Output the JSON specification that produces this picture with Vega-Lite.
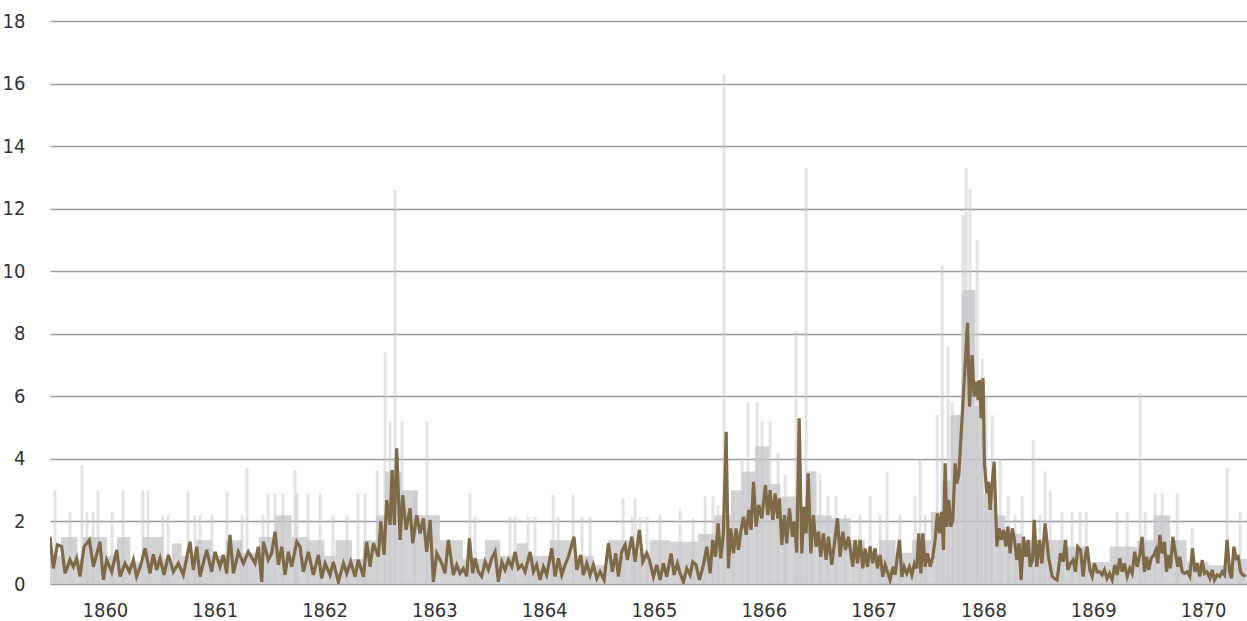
{
  "$schema": "https://vega.github.io/schema/vega-lite/v6.json",
  "width": 1197,
  "height": 563,
  "autosize": {"type": "none"},
  "padding": {"left": 50, "top": 21, "right": 0, "bottom": 37},
  "background": "white",
  "config": {"view": {"stroke": null}, "font": "'Liberation Sans Narrow', 'DejaVu Sans Condensed', 'Roboto Condensed', Roboto, sans-serif"},
  "datasets": {
    "blocks": [
      {"t":1859.50,"t2":1859.60,"v":0.9},{"t":1859.60,"t2":1859.75,"v":1.5},{"t":1859.75,"t2":1859.80,"v":0.8},{"t":1859.80,"t2":1860.02,"v":1.5},
      {"t":1860.02,"t2":1860.11,"v":0.9},{"t":1860.11,"t2":1860.23,"v":1.5},{"t":1860.23,"t2":1860.34,"v":0.7},{"t":1860.34,"t2":1860.53,"v":1.5},
      {"t":1860.53,"t2":1860.61,"v":0.8},{"t":1860.61,"t2":1860.70,"v":1.3},{"t":1860.70,"t2":1860.83,"v":0.9},{"t":1860.83,"t2":1860.97,"v":1.4},
      {"t":1860.97,"t2":1861.10,"v":0.9},{"t":1861.10,"t2":1861.25,"v":1.4},{"t":1861.25,"t2":1861.40,"v":1.0},{"t":1861.40,"t2":1861.55,"v":1.5},
      {"t":1861.55,"t2":1861.70,"v":2.2},{"t":1861.70,"t2":1861.85,"v":1.5},{"t":1861.85,"t2":1862.00,"v":1.4},{"t":1862.00,"t2":1862.10,"v":0.9},
      {"t":1862.10,"t2":1862.25,"v":1.4},{"t":1862.25,"t2":1862.35,"v":0.8},{"t":1862.35,"t2":1862.47,"v":1.4},{"t":1862.47,"t2":1862.55,"v":2.2},
      {"t":1862.55,"t2":1862.70,"v":3.6},{"t":1862.70,"t2":1862.85,"v":3.0},{"t":1862.85,"t2":1863.05,"v":2.2},{"t":1863.05,"t2":1863.26,"v":1.4},
      {"t":1863.26,"t2":1863.46,"v":0.8},{"t":1863.46,"t2":1863.60,"v":1.4},{"t":1863.60,"t2":1863.75,"v":0.9},{"t":1863.75,"t2":1863.85,"v":1.3},
      {"t":1863.85,"t2":1864.05,"v":0.9},{"t":1864.05,"t2":1864.25,"v":1.4},{"t":1864.25,"t2":1864.45,"v":0.9},{"t":1864.45,"t2":1864.58,"v":0.6},
      {"t":1864.58,"t2":1864.78,"v":1.4},{"t":1864.78,"t2":1864.96,"v":1.0},{"t":1864.96,"t2":1865.15,"v":1.4},{"t":1865.15,"t2":1865.40,"v":1.35},
      {"t":1865.40,"t2":1865.55,"v":1.6},{"t":1865.55,"t2":1865.70,"v":2.2},{"t":1865.70,"t2":1865.80,"v":3.0},{"t":1865.80,"t2":1865.92,"v":3.6},
      {"t":1865.92,"t2":1866.05,"v":4.4},{"t":1866.05,"t2":1866.15,"v":3.2},{"t":1866.15,"t2":1866.30,"v":2.8},{"t":1866.30,"t2":1866.38,"v":2.2},
      {"t":1866.38,"t2":1866.48,"v":3.6},{"t":1866.48,"t2":1866.62,"v":2.2},{"t":1866.62,"t2":1866.79,"v":2.1},{"t":1866.79,"t2":1866.92,"v":1.4},
      {"t":1866.92,"t2":1867.05,"v":0.9},{"t":1867.05,"t2":1867.20,"v":1.4},{"t":1867.20,"t2":1867.35,"v":1.0},{"t":1867.35,"t2":1867.52,"v":1.4},
      {"t":1867.52,"t2":1867.62,"v":2.3},{"t":1867.62,"t2":1867.70,"v":3.3},{"t":1867.70,"t2":1867.80,"v":5.4},{"t":1867.80,"t2":1867.92,"v":9.4},
      {"t":1867.92,"t2":1868.00,"v":5.7},{"t":1868.00,"t2":1868.10,"v":2.9},{"t":1868.10,"t2":1868.20,"v":2.2},{"t":1868.20,"t2":1868.35,"v":1.6},
      {"t":1868.35,"t2":1868.58,"v":1.4},{"t":1868.58,"t2":1868.75,"v":1.4},{"t":1868.75,"t2":1868.95,"v":1.2},{"t":1868.95,"t2":1869.15,"v":0.7},
      {"t":1869.15,"t2":1869.40,"v":1.2},{"t":1869.40,"t2":1869.55,"v":1.4},{"t":1869.55,"t2":1869.70,"v":2.2},{"t":1869.70,"t2":1869.85,"v":1.4},
      {"t":1869.85,"t2":1870.05,"v":0.7},{"t":1870.05,"t2":1870.25,"v":0.6},{"t":1870.25,"t2":1870.40,"v":0.8}
    ],
    "spikes": [
      {"t":1859.546,"v":3.0},{"t":1859.682,"v":2.3},{"t":1859.791,"v":3.8},{"t":1859.837,"v":2.3},{"t":1859.892,"v":2.3},{"t":1859.937,"v":3.0},
      {"t":1860.065,"v":2.3},{"t":1860.165,"v":3.0},{"t":1860.347,"v":3.0},{"t":1860.392,"v":3.0},{"t":1860.529,"v":2.2},{"t":1860.575,"v":2.2},
      {"t":1860.757,"v":2.95},{"t":1860.821,"v":2.2},{"t":1860.866,"v":2.2},{"t":1860.975,"v":2.2},{"t":1861.112,"v":2.95},{"t":1861.249,"v":2.2},
      {"t":1861.294,"v":3.7},{"t":1861.440,"v":2.2},{"t":1861.485,"v":2.9},{"t":1861.549,"v":2.9},{"t":1861.622,"v":2.9},{"t":1861.731,"v":3.64},
      {"t":1861.749,"v":2.9},{"t":1861.850,"v":2.9},{"t":1861.959,"v":2.9},{"t":1862.077,"v":2.2},{"t":1862.205,"v":2.2},{"t":1862.305,"v":2.9},
      {"t":1862.369,"v":2.9},{"t":1862.478,"v":3.64},{"t":1862.551,"v":7.4},{"t":1862.596,"v":5.2},{"t":1862.642,"v":12.6},{"t":1862.706,"v":5.2},
      {"t":1862.824,"v":3.0},{"t":1862.933,"v":5.2},{"t":1863.325,"v":2.9},{"t":1863.370,"v":2.15},{"t":1863.689,"v":2.15},{"t":1863.735,"v":2.15},
      {"t":1863.853,"v":2.15},{"t":1863.917,"v":2.15},{"t":1864.081,"v":2.85},{"t":1864.127,"v":2.15},{"t":1864.263,"v":2.85},{"t":1864.345,"v":2.15},
      {"t":1864.418,"v":2.15},{"t":1864.719,"v":2.74},{"t":1864.800,"v":2.15},{"t":1864.828,"v":2.74},{"t":1864.873,"v":2.15},{"t":1864.937,"v":2.15},
      {"t":1865.055,"v":2.2},{"t":1865.237,"v":2.4},{"t":1865.356,"v":2.1},{"t":1865.465,"v":2.8},{"t":1865.538,"v":2.8},{"t":1865.583,"v":2.5},
      {"t":1865.638,"v":16.3},{"t":1865.720,"v":2.8},{"t":1865.802,"v":4.0},{"t":1865.857,"v":5.8},{"t":1865.939,"v":5.8},{"t":1865.984,"v":5.2},
      {"t":1866.057,"v":5.2},{"t":1866.130,"v":4.2},{"t":1866.194,"v":3.5},{"t":1866.294,"v":8.1},{"t":1866.330,"v":4.0},{"t":1866.385,"v":13.3},
      {"t":1866.440,"v":3.6},{"t":1866.512,"v":3.5},{"t":1866.585,"v":2.8},{"t":1866.658,"v":2.8},{"t":1866.740,"v":2.2},{"t":1866.877,"v":2.2},
      {"t":1866.968,"v":2.8},{"t":1867.059,"v":2.2},{"t":1867.123,"v":3.6},{"t":1867.241,"v":2.2},{"t":1867.378,"v":2.8},{"t":1867.423,"v":4.0},
      {"t":1867.469,"v":2.2},{"t":1867.578,"v":5.4},{"t":1867.624,"v":10.2},{"t":1867.678,"v":7.6},{"t":1867.715,"v":5.8},{"t":1867.769,"v":5.4},
      {"t":1867.815,"v":11.8},{"t":1867.842,"v":13.3},{"t":1867.878,"v":12.6},{"t":1867.915,"v":9.4},{"t":1867.942,"v":11.0},{"t":1867.988,"v":7.2},
      {"t":1868.024,"v":6.0},{"t":1868.079,"v":5.4},{"t":1868.152,"v":4.0},{"t":1868.224,"v":2.8},{"t":1868.288,"v":2.2},{"t":1868.352,"v":2.8},
      {"t":1868.452,"v":4.6},{"t":1868.516,"v":2.2},{"t":1868.561,"v":3.6},{"t":1868.607,"v":3.0},{"t":1868.716,"v":2.3},{"t":1868.807,"v":2.3},
      {"t":1868.880,"v":2.3},{"t":1868.935,"v":2.3},{"t":1869.217,"v":2.3},{"t":1869.309,"v":2.3},{"t":1869.427,"v":6.1},{"t":1869.472,"v":2.3},
      {"t":1869.563,"v":2.9},{"t":1869.627,"v":2.9},{"t":1869.764,"v":2.9},{"t":1869.900,"v":1.8},{"t":1870.219,"v":3.7},{"t":1870.337,"v":2.3}
    ],
    "line": [
      {"t":1859.500,"v":1.51},{"t":1859.530,"v":0.5},{"t":1859.567,"v":1.25},{"t":1859.606,"v":1.2},{"t":1859.637,"v":0.34},{"t":1859.682,"v":0.77},
      {"t":1859.713,"v":0.55},{"t":1859.743,"v":0.82},{"t":1859.773,"v":0.24},{"t":1859.810,"v":1.19},{"t":1859.858,"v":1.41},{"t":1859.895,"v":0.55},
      {"t":1859.955,"v":1.35},{"t":1859.986,"v":0.13},{"t":1860.016,"v":0.77},{"t":1860.062,"v":0.39},{"t":1860.107,"v":1.09},{"t":1860.138,"v":0.24},
      {"t":1860.183,"v":0.66},{"t":1860.223,"v":0.39},{"t":1860.259,"v":0.77},{"t":1860.289,"v":0.24},{"t":1860.326,"v":0.6},{"t":1860.365,"v":1.14},
      {"t":1860.411,"v":0.34},{"t":1860.441,"v":0.95},{"t":1860.471,"v":0.45},{"t":1860.502,"v":0.82},{"t":1860.538,"v":0.29},{"t":1860.578,"v":0.93},
      {"t":1860.623,"v":0.39},{"t":1860.669,"v":0.66},{"t":1860.714,"v":0.29},{"t":1860.775,"v":1.35},{"t":1860.805,"v":0.45},{"t":1860.836,"v":1.19},
      {"t":1860.866,"v":0.24},{"t":1860.927,"v":1.09},{"t":1860.972,"v":0.39},{"t":1861.003,"v":1.03},{"t":1861.048,"v":0.55},{"t":1861.079,"v":0.93},
      {"t":1861.109,"v":0.34},{"t":1861.139,"v":1.57},{"t":1861.170,"v":0.34},{"t":1861.215,"v":1.03},{"t":1861.261,"v":0.66},{"t":1861.306,"v":1.03},
      {"t":1861.367,"v":0.66},{"t":1861.397,"v":1.19},{"t":1861.428,"v":0.07},{"t":1861.443,"v":1.35},{"t":1861.488,"v":0.77},{"t":1861.519,"v":0.98},
      {"t":1861.549,"v":1.67},{"t":1861.580,"v":0.61},{"t":1861.610,"v":1.19},{"t":1861.640,"v":0.29},{"t":1861.671,"v":1.03},{"t":1861.701,"v":0.55},
      {"t":1861.747,"v":1.35},{"t":1861.777,"v":1.19},{"t":1861.807,"v":0.39},{"t":1861.853,"v":1.03},{"t":1861.898,"v":0.29},{"t":1861.944,"v":0.93},
      {"t":1861.974,"v":0.18},{"t":1862.005,"v":0.66},{"t":1862.050,"v":0.29},{"t":1862.080,"v":0.71},{"t":1862.126,"v":0.07},{"t":1862.172,"v":0.66},
      {"t":1862.202,"v":0.34},{"t":1862.238,"v":0.71},{"t":1862.278,"v":0.23},{"t":1862.308,"v":0.77},{"t":1862.354,"v":0.23},{"t":1862.384,"v":1.35},
      {"t":1862.414,"v":0.55},{"t":1862.445,"v":1.3},{"t":1862.490,"v":0.87},{"t":1862.512,"v":2.0},{"t":1862.542,"v":0.93},{"t":1862.566,"v":2.68},
      {"t":1862.597,"v":1.89},{"t":1862.615,"v":3.64},{"t":1862.636,"v":1.89},{"t":1862.657,"v":4.34},{"t":1862.688,"v":1.41},{"t":1862.712,"v":2.84},
      {"t":1862.742,"v":1.73},{"t":1862.779,"v":2.42},{"t":1862.803,"v":1.3},{"t":1862.839,"v":2.2},{"t":1862.870,"v":1.62},{"t":1862.900,"v":2.1},
      {"t":1862.930,"v":1.03},{"t":1862.961,"v":2.05},{"t":1862.991,"v":0.07},{"t":1863.022,"v":0.98},{"t":1863.067,"v":0.66},{"t":1863.097,"v":0.34},
      {"t":1863.128,"v":1.41},{"t":1863.173,"v":0.29},{"t":1863.204,"v":0.61},{"t":1863.234,"v":0.34},{"t":1863.264,"v":0.5},{"t":1863.295,"v":0.24},
      {"t":1863.319,"v":1.46},{"t":1863.349,"v":0.34},{"t":1863.371,"v":0.82},{"t":1863.401,"v":0.39},{"t":1863.431,"v":0.24},{"t":1863.462,"v":0.71},
      {"t":1863.492,"v":0.45},{"t":1863.522,"v":0.82},{"t":1863.553,"v":1.03},{"t":1863.583,"v":0.07},{"t":1863.614,"v":0.71},{"t":1863.644,"v":0.45},
      {"t":1863.674,"v":0.77},{"t":1863.705,"v":0.55},{"t":1863.735,"v":1.03},{"t":1863.765,"v":0.5},{"t":1863.796,"v":0.61},{"t":1863.826,"v":0.39},
      {"t":1863.872,"v":1.03},{"t":1863.902,"v":0.39},{"t":1863.932,"v":0.61},{"t":1863.963,"v":0.13},{"t":1863.993,"v":0.55},{"t":1864.023,"v":0.29},
      {"t":1864.069,"v":1.14},{"t":1864.099,"v":0.24},{"t":1864.130,"v":0.82},{"t":1864.160,"v":0.29},{"t":1864.190,"v":0.61},{"t":1864.221,"v":0.87},
      {"t":1864.272,"v":1.51},{"t":1864.297,"v":0.45},{"t":1864.333,"v":0.93},{"t":1864.357,"v":0.29},{"t":1864.388,"v":0.66},{"t":1864.418,"v":0.29},
      {"t":1864.448,"v":0.61},{"t":1864.479,"v":0.18},{"t":1864.509,"v":0.39},{"t":1864.546,"v":0.13},{"t":1864.585,"v":1.3},{"t":1864.621,"v":0.39},
      {"t":1864.652,"v":0.98},{"t":1864.676,"v":0.24},{"t":1864.706,"v":1.03},{"t":1864.737,"v":1.25},{"t":1864.758,"v":0.77},{"t":1864.798,"v":1.51},
      {"t":1864.828,"v":0.71},{"t":1864.867,"v":1.73},{"t":1864.898,"v":0.71},{"t":1864.934,"v":0.98},{"t":1864.958,"v":0.77},{"t":1864.995,"v":0.23},
      {"t":1865.025,"v":0.61},{"t":1865.056,"v":0.13},{"t":1865.086,"v":0.66},{"t":1865.116,"v":0.23},{"t":1865.156,"v":0.98},{"t":1865.183,"v":0.29},
      {"t":1865.213,"v":0.66},{"t":1865.238,"v":0.34},{"t":1865.268,"v":0.07},{"t":1865.298,"v":0.5},{"t":1865.329,"v":0.29},{"t":1865.353,"v":0.71},
      {"t":1865.383,"v":0.61},{"t":1865.414,"v":0.13},{"t":1865.450,"v":0.61},{"t":1865.481,"v":1.19},{"t":1865.511,"v":0.34},{"t":1865.535,"v":1.41},
      {"t":1865.560,"v":0.87},{"t":1865.584,"v":1.94},{"t":1865.608,"v":0.82},{"t":1865.632,"v":1.62},{"t":1865.657,"v":4.87},{"t":1865.678,"v":0.5},
      {"t":1865.699,"v":1.78},{"t":1865.724,"v":0.98},{"t":1865.748,"v":1.78},{"t":1865.769,"v":1.09},{"t":1865.790,"v":1.67},{"t":1865.815,"v":2.15},
      {"t":1865.839,"v":1.57},{"t":1865.863,"v":2.37},{"t":1865.884,"v":1.73},{"t":1865.906,"v":3.27},{"t":1865.930,"v":1.83},{"t":1865.954,"v":2.53},
      {"t":1865.982,"v":2.1},{"t":1866.015,"v":3.16},{"t":1866.036,"v":2.2},{"t":1866.057,"v":3.0},{"t":1866.082,"v":2.05},{"t":1866.103,"v":2.9},
      {"t":1866.127,"v":2.1},{"t":1866.142,"v":2.74},{"t":1866.164,"v":1.25},{"t":1866.188,"v":2.2},{"t":1866.209,"v":1.3},{"t":1866.233,"v":2.42},
      {"t":1866.261,"v":1.51},{"t":1866.279,"v":2.0},{"t":1866.300,"v":1.0},{"t":1866.322,"v":5.3},{"t":1866.346,"v":0.98},{"t":1866.367,"v":2.47},
      {"t":1866.385,"v":1.62},{"t":1866.404,"v":3.54},{"t":1866.428,"v":0.98},{"t":1866.452,"v":2.2},{"t":1866.476,"v":1.19},{"t":1866.498,"v":1.67},
      {"t":1866.519,"v":0.87},{"t":1866.543,"v":1.62},{"t":1866.567,"v":0.77},{"t":1866.589,"v":1.51},{"t":1866.619,"v":0.61},{"t":1866.643,"v":1.3},
      {"t":1866.671,"v":2.1},{"t":1866.695,"v":0.87},{"t":1866.719,"v":1.67},{"t":1866.744,"v":1.09},{"t":1866.771,"v":1.51},{"t":1866.810,"v":0.55},
      {"t":1866.832,"v":1.41},{"t":1866.853,"v":0.66},{"t":1866.877,"v":1.41},{"t":1866.901,"v":0.5},{"t":1866.923,"v":1.14},{"t":1866.944,"v":0.55},
      {"t":1866.968,"v":1.2},{"t":1866.992,"v":0.66},{"t":1867.014,"v":1.14},{"t":1867.035,"v":0.5},{"t":1867.059,"v":0.93},{"t":1867.084,"v":0.23},
      {"t":1867.105,"v":0.61},{"t":1867.126,"v":0.39},{"t":1867.150,"v":0.13},{"t":1867.175,"v":0.55},{"t":1867.196,"v":0.29},{"t":1867.217,"v":0.93},
      {"t":1867.235,"v":1.41},{"t":1867.257,"v":0.23},{"t":1867.278,"v":0.55},{"t":1867.302,"v":0.34},{"t":1867.326,"v":0.55},{"t":1867.348,"v":0.29},
      {"t":1867.372,"v":0.66},{"t":1867.393,"v":0.5},{"t":1867.411,"v":1.62},{"t":1867.430,"v":0.34},{"t":1867.448,"v":1.62},{"t":1867.469,"v":0.55},
      {"t":1867.490,"v":0.98},{"t":1867.515,"v":0.55},{"t":1867.539,"v":0.87},{"t":1867.560,"v":1.41},{"t":1867.581,"v":2.26},{"t":1867.600,"v":1.62},
      {"t":1867.621,"v":2.31},{"t":1867.636,"v":1.09},{"t":1867.651,"v":3.86},{"t":1867.666,"v":1.83},{"t":1867.685,"v":2.69},{"t":1867.703,"v":1.83},
      {"t":1867.721,"v":2.05},{"t":1867.742,"v":3.86},{"t":1867.758,"v":3.22},{"t":1867.776,"v":3.5},{"t":1867.855,"v":8.35},{"t":1867.873,"v":5.67},
      {"t":1867.897,"v":7.32},{"t":1867.915,"v":5.99},{"t":1867.934,"v":6.47},{"t":1867.952,"v":5.88},{"t":1867.964,"v":6.52},{"t":1867.979,"v":5.3},
      {"t":1867.997,"v":6.58},{"t":1868.009,"v":3.86},{"t":1868.031,"v":2.9},{"t":1868.046,"v":3.27},{"t":1868.061,"v":2.37},{"t":1868.076,"v":3.1},
      {"t":1868.098,"v":3.91},{"t":1868.122,"v":1.2},{"t":1868.143,"v":1.78},{"t":1868.161,"v":1.41},{"t":1868.183,"v":1.73},{"t":1868.204,"v":1.2},
      {"t":1868.222,"v":1.83},{"t":1868.243,"v":0.98},{"t":1868.262,"v":1.78},{"t":1868.283,"v":1.41},{"t":1868.304,"v":0.77},{"t":1868.325,"v":1.3},
      {"t":1868.343,"v":0.13},{"t":1868.365,"v":1.51},{"t":1868.386,"v":0.87},{"t":1868.407,"v":1.41},{"t":1868.425,"v":0.55},{"t":1868.447,"v":0.77},
      {"t":1868.462,"v":2.05},{"t":1868.486,"v":0.55},{"t":1868.510,"v":1.41},{"t":1868.532,"v":0.66},{"t":1868.562,"v":1.94},{"t":1868.592,"v":0.87},
      {"t":1868.626,"v":0.24},{"t":1868.647,"v":0.18},{"t":1868.671,"v":0.13},{"t":1868.701,"v":0.98},{"t":1868.726,"v":0.71},{"t":1868.747,"v":1.41},
      {"t":1868.768,"v":0.45},{"t":1868.793,"v":0.66},{"t":1868.817,"v":0.77},{"t":1868.838,"v":0.39},{"t":1868.859,"v":1.19},{"t":1868.884,"v":1.09},
      {"t":1868.908,"v":0.24},{"t":1868.929,"v":0.93},{"t":1868.944,"v":1.19},{"t":1868.969,"v":0.45},{"t":1868.990,"v":0.24},{"t":1869.011,"v":0.66},
      {"t":1869.035,"v":0.39},{"t":1869.060,"v":0.39},{"t":1869.081,"v":0.29},{"t":1869.102,"v":0.45},{"t":1869.126,"v":0.18},{"t":1869.148,"v":0.34},
      {"t":1869.172,"v":0.13},{"t":1869.196,"v":0.61},{"t":1869.218,"v":0.29},{"t":1869.242,"v":0.82},{"t":1869.263,"v":0.39},{"t":1869.284,"v":0.66},
      {"t":1869.309,"v":0.24},{"t":1869.333,"v":0.5},{"t":1869.354,"v":0.34},{"t":1869.378,"v":1.03},{"t":1869.400,"v":0.55},{"t":1869.424,"v":0.93},
      {"t":1869.445,"v":1.51},{"t":1869.466,"v":0.39},{"t":1869.485,"v":0.87},{"t":1869.506,"v":0.45},{"t":1869.527,"v":0.82},{"t":1869.552,"v":0.93},
      {"t":1869.570,"v":1.09},{"t":1869.588,"v":0.66},{"t":1869.606,"v":1.57},{"t":1869.627,"v":0.98},{"t":1869.649,"v":1.35},{"t":1869.667,"v":0.39},
      {"t":1869.688,"v":0.93},{"t":1869.703,"v":0.5},{"t":1869.725,"v":1.51},{"t":1869.746,"v":1.03},{"t":1869.770,"v":0.55},{"t":1869.788,"v":0.87},
      {"t":1869.810,"v":0.39},{"t":1869.831,"v":0.34},{"t":1869.855,"v":0.39},{"t":1869.879,"v":0.24},{"t":1869.904,"v":1.14},{"t":1869.925,"v":0.39},
      {"t":1869.946,"v":0.66},{"t":1869.970,"v":0.24},{"t":1869.992,"v":0.77},{"t":1870.013,"v":0.34},{"t":1870.037,"v":0.39},{"t":1870.062,"v":0.18},
      {"t":1870.083,"v":0.45},{"t":1870.104,"v":0.13},{"t":1870.128,"v":0.29},{"t":1870.153,"v":0.24},{"t":1870.174,"v":0.39},{"t":1870.195,"v":0.29},
      {"t":1870.219,"v":1.41},{"t":1870.241,"v":0.39},{"t":1870.259,"v":0.18},{"t":1870.280,"v":1.19},{"t":1870.301,"v":0.82},{"t":1870.320,"v":0.87},
      {"t":1870.341,"v":0.39},{"t":1870.362,"v":0.29},{"t":1870.386,"v":0.24}
    ]
  },
  "layer": [
    {
      "data": {"name": "blocks"},
      "mark": {"type": "rect", "color": "#c4c4c8", "opacity": 0.75, "clip": true},
      "encoding": {
        "x": {"field": "t", "type": "quantitative",
              "scale": {"domain": [1859.5, 1870.4], "nice": false, "zero": false},
              "axis": {"values": [1860,1861,1862,1863,1864,1865,1866,1867,1868,1869,1870], "format": "d", "grid": false, "domain": false, "ticks": false, "labelPadding": 16, "labelFontSize": 20, "labelColor": "#333333", "title": null}},
        "x2": {"field": "t2"},
        "y": {"field": "v", "type": "quantitative",
              "scale": {"domain": [0, 18], "nice": false},
              "axis": {"values": [0,2,4,6,8,10,12,14,16,18], "grid": true, "gridColor": "#9a9a9a", "gridWidth": 1.3, "domain": false, "ticks": false, "labelPadding": 25, "labelFontSize": 20, "labelColor": "#333333", "title": null}},
        "y2": {"datum": 0}
      }
    },
    {
      "data": {"name": "spikes"},
      "mark": {"type": "rule", "color": "#c8c8cc", "opacity": 0.5, "strokeWidth": 3, "clip": true},
      "encoding": {
        "x": {"field": "t", "type": "quantitative"},
        "y": {"field": "v", "type": "quantitative"},
        "y2": {"datum": 0}
      }
    },
    {
      "data": {"name": "line"},
      "mark": {"type": "line", "color": "#7f6a48", "strokeWidth": 3.2, "strokeJoin": "miter", "clip": true},
      "encoding": {
        "x": {"field": "t", "type": "quantitative"},
        "y": {"field": "v", "type": "quantitative"}
      }
    },
    {
      "mark": {"type": "rule", "color": "#222222", "strokeWidth": 2},
      "encoding": {"y": {"datum": 5}}
    }
  ]
}
